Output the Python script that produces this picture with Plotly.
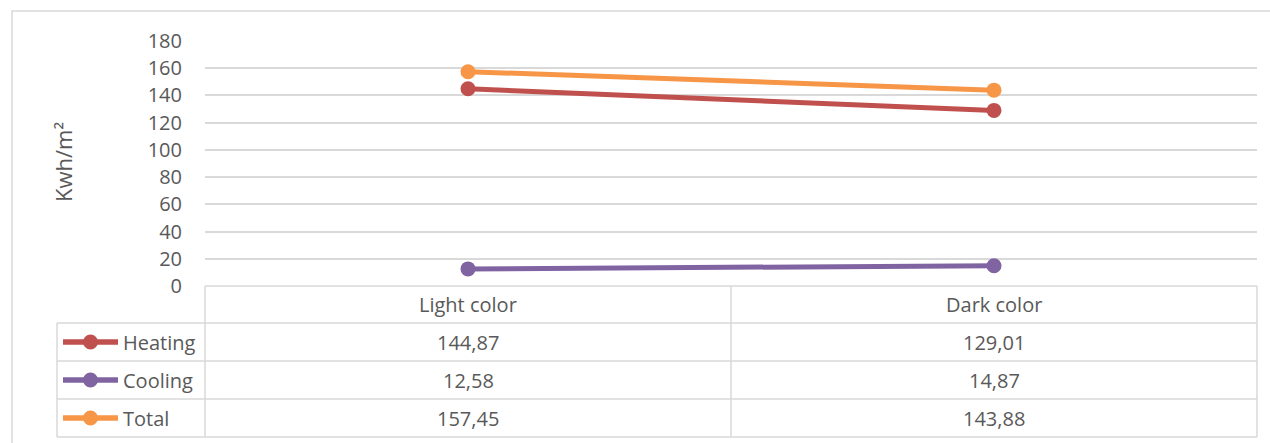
import plotly.graph_objects as go

categories = ["Light color", "Dark color"]
series_names = ["Heating", "Cooling", "Total"]
heating = [144.87, 129.01]
cooling = [12.58, 14.87]
total = [157.45, 143.88]
y_ticks = [0, 20, 40, 60, 80, 100, 120, 140, 160, 180]
y_title = "Kwh/m²"

colors = {"Heating": "#C0504D", "Cooling": "#8064A2", "Total": "#F79646"}
values = {"Heating": heating, "Cooling": cooling, "Total": total}

W, H = 1270, 443
L, R, T, B = 205, 1257, 41, 286  # plot area in pixels
FONT = "Open Sans"
TXT = "#595959"
GRID = "#D9D9D9"
FS = 20

def px(X):
    return (X - L) / (R - L)

def py(Y):
    return (B - Y) / (B - T)

def fmt(v):
    return f"{v:.2f}".replace(".", ",")

fig = go.Figure()
for name in series_names:
    fig.add_trace(go.Scatter(
        x=list(range(len(categories))), y=values[name], name=name,
        mode="lines+markers",
        line=dict(color=colors[name], width=5),
        marker=dict(color=colors[name], size=15),
        showlegend=False, cliponaxis=False,
    ))

shapes = []
line_style = dict(color=GRID, width=1.5)
# outer chart border
shapes.append(dict(type="rect", xref="paper", yref="paper",
                   x0=px(12), x1=px(1275), y0=py(11), y1=py(450),
                   line=dict(color=GRID, width=1.5), layer="below"))
# table horizontal lines
row_lines = [286, 323, 361, 399, 437]
for i, Y in enumerate(row_lines):
    x0 = L if i == 0 else 57
    shapes.append(dict(type="line", xref="paper", yref="paper",
                       x0=px(x0), x1=px(R), y0=py(Y), y1=py(Y), line=line_style))
# table vertical lines
for X, Y0 in [(57, 323), (L, 286), (731, 286), (R, 286)]:
    shapes.append(dict(type="line", xref="paper", yref="paper",
                       x0=px(X), x1=px(X), y0=py(Y0), y1=py(437), line=line_style))

annotations = []
# y axis title
annotations.append(dict(text=y_title, xref="paper", yref="paper",
                        x=px(63), y=py(162), showarrow=False, textangle=-90,
                        font=dict(family=FONT, size=22, color=TXT),
                        xanchor="center", yanchor="middle"))
# header row
for i, c in enumerate(categories):
    annotations.append(dict(text=c, xref="x", yref="paper", x=i, y=py(304),
                            showarrow=False, xanchor="center", yanchor="middle",
                            font=dict(family=FONT, size=FS, color=TXT)))
# data rows
row_centers = [342, 380, 418]
for name, Yc in zip(series_names, row_centers):
    # legend key
    shapes.append(dict(type="line", xref="paper", yref="paper",
                       x0=px(63), x1=px(118), y0=py(Yc), y1=py(Yc),
                       line=dict(color=colors[name], width=5.5)))
    shapes.append(dict(type="circle", xref="paper", yref="paper",
                       xsizemode="pixel", ysizemode="pixel",
                       xanchor=px(90.5), yanchor=py(Yc),
                       x0=-7.5, x1=7.5, y0=-7.5, y1=7.5,
                       fillcolor=colors[name], line=dict(width=0)))
    annotations.append(dict(text=name, xref="paper", yref="paper",
                            x=px(121), y=py(Yc), showarrow=False,
                            xanchor="left", yanchor="middle",
                            font=dict(family=FONT, size=FS, color=TXT)))
    for i, v in enumerate(values[name]):
        annotations.append(dict(text=fmt(v), xref="x", yref="paper", x=i, y=py(Yc),
                                showarrow=False, xanchor="center", yanchor="middle",
                                font=dict(family=FONT, size=FS, color=TXT)))

fig.update_layout(
    width=W, height=H,
    margin=dict(l=L, r=W - R, t=T, b=H - B, pad=0),
    paper_bgcolor="white", plot_bgcolor="white",
    font=dict(family=FONT, color=TXT, size=FS),
    xaxis=dict(range=[-0.5, len(categories) - 0.5], showticklabels=False,
               showgrid=False, zeroline=False, showline=False, ticks=""),
    yaxis=dict(range=[0, 180], tickvals=y_ticks, showgrid=True, gridcolor=GRID,
               gridwidth=1.5, zeroline=False, showline=False, ticks="",
               ticklabelstandoff=22, tickfont=dict(family=FONT, size=FS, color=TXT)),
    shapes=shapes, annotations=annotations,
)

fig.write_html("out.html")
